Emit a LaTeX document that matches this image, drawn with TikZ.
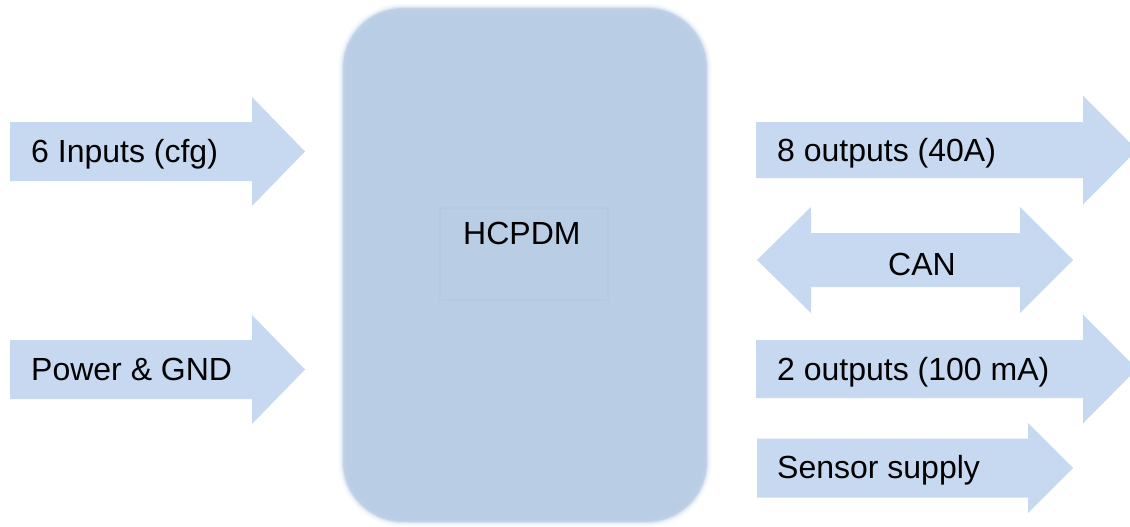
\documentclass[tikz,border=0pt]{standalone}
\usepackage{fontspec}
\setmainfont{Liberation Sans}
\usepackage{tikz}

\definecolor{boxblue}{HTML}{B9CDE5}
\definecolor{arrowblue}{HTML}{C6D9F1}
\definecolor{glowblue}{HTML}{C9D8EC}
\definecolor{edgeblue}{HTML}{B2C6DE}

\tikzset{
  sigtext/.style={anchor=base west, inner sep=0pt, font=\fontsize{32}{38}\selectfont},
  blockarrow/.style={fill=arrowblue, draw=none}
}

\begin{document}
\begin{tikzpicture}[x=1pt, y=-1pt]
  \useasboundingbox (0,0) rectangle (1130,527);
  \clip (0,0) rectangle (1130,527);

  % main block with soft edge
  \node[fill=boxblue, rounded corners=60pt, minimum width=364pt, minimum height=514pt, inner sep=0pt] (hcpdm) at (525,265) {};
  \foreach \w/\o in {9/0.12,5/0.25,2/0.5}
    \draw[glowblue, line width=\w pt, opacity=\o, rounded corners=60pt] (hcpdm.north west) rectangle (hcpdm.south east);
  \node[draw=edgeblue, line width=1.2pt, opacity=0.45, minimum width=168pt, minimum height=92pt, inner sep=0pt] (core) at (524,254) {};
  \node[sigtext] (name) at (463,244) {HCPDM};

  % single arrows: left x / head x / tip x / centre y / half body / half head
  \foreach \xl/\xh/\xt/\yc/\bh/\hh in {10/252/305/151.5/29.5/54.5, 10/252/305/369.5/29.5/54.5,
                                        756/1083/1137/150/28/54.5, 756/1083/1137/369/29/54.5,
                                        757/1028/1073/468/29.5/45}
    \fill[blockarrow] ({\xl},{\yc-\bh}) -- ({\xh},{\yc-\bh}) -- ({\xh},{\yc-\hh}) -- ({\xt},{\yc})
      -- ({\xh},{\yc+\hh}) -- ({\xh},{\yc+\bh}) -- ({\xl},{\yc+\bh}) -- cycle;

  % double arrow
  \fill[blockarrow] (757,260) -- (811,207) -- (811,233) -- (1020,233) -- (1020,207) -- (1073,260)
    -- (1020,313) -- (1020,287) -- (811,287) -- (811,313) -- cycle;

  \node[sigtext] (inputs) at (31,162) {6 Inputs (cfg)};
  \node[sigtext] (power) at (31,380) {Power \& GND};
  \node[sigtext] (out40) at (777,161) {8 outputs (40A)};
  \node[sigtext] (can) at (888,275) {CAN};
  \node[sigtext] (out100) at (777,380) {2 outputs (100 mA)};
  \node[sigtext] (sensor) at (777,478) {Sensor supply};
\end{tikzpicture}
\end{document}
